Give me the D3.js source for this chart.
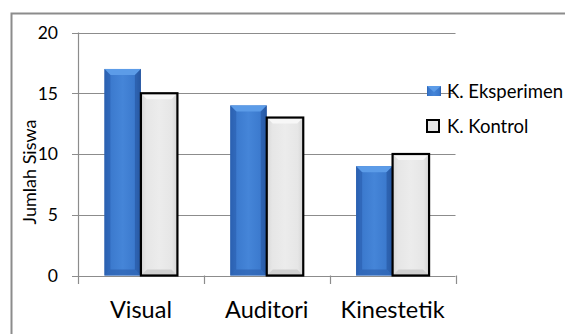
<!DOCTYPE html>
<html><head><meta charset="utf-8">
<script src="https://cdn.jsdelivr.net/npm/d3@7"></script>
<style>body{margin:0;background:#fff}svg{display:block}text{font-family:Lato,"Open Sans",sans-serif;fill:#000}</style>
</head><body><svg id="c" width="565" height="334"></svg>
<script>
const categories = ["Visual", "Auditori", "Kinestetik"];
const seriesNames = ["K. Eksperimen", "K. Kontrol"];
const eksperimen = [17, 14, 9];
const kontrol = [15, 13, 10];
const yTicks = [0, 5, 10, 15, 20];
const yTitle = "Jumlah Siswa";

const svg = d3.select("#c");
const defs = svg.append("defs");
const gB = defs.append("linearGradient").attr("id","gb").attr("x1",0).attr("x2",1).attr("y1",0).attr("y2",0);
[[0,"#2c64b4"],[0.12,"#3a78cc"],[0.5,"#4585d8"],[0.88,"#3a78cc"],[1,"#2a5ca8"]].forEach(s=>gB.append("stop").attr("offset",s[0]).attr("stop-color",s[1]));
const gG = defs.append("linearGradient").attr("id","gg").attr("x1",0).attr("x2",1).attr("y1",0).attr("y2",0);
[[0,"#d8d8d8"],[0.15,"#e6e6e6"],[0.5,"#ececec"],[0.85,"#e6e6e6"],[1,"#d4d4d4"]].forEach(s=>gG.append("stop").attr("offset",s[0]).attr("stop-color",s[1]));

// outer frame
svg.append("path").attr("d","M11.5,334 V13.5 H565").attr("fill","none").attr("stroke","#8c8c8c").attr("stroke-width",2);

const x = d3.scaleBand().domain(categories).range([78,455.5]);
const y = d3.scaleLinear().domain([0,20]).range([275.5,32.5]);
const bw = 36.5;

// gridlines
svg.append("g").selectAll("line").data(yTicks).join("line")
  .attr("x1",72).attr("x2",455.5).attr("y1",d=>Math.round(y(d))+0.5).attr("y2",d=>Math.round(y(d))+0.5)
  .attr("stroke","#8c8c8c").attr("stroke-width",1.2);
// y axis line
svg.append("line").attr("x1",78.5).attr("x2",78.5).attr("y1",y(20)).attr("y2",284).attr("stroke","#8c8c8c").attr("stroke-width",1.2);
// x ticks
const xt = categories.map(c=>x(c)).concat([x.range()[1]]);
svg.append("g").selectAll("line").data(xt.slice(1)).join("line")
  .attr("x1",d=>Math.round(d)+0.5).attr("x2",d=>Math.round(d)+0.5).attr("y1",y(0)).attr("y2",284)
  .attr("stroke","#8c8c8c").attr("stroke-width",1.2);

// y tick labels
svg.append("g").selectAll("text").data(yTicks).join("text")
  .attr("x",58).attr("y",d=>y(d)).attr("dy","0.36em").attr("text-anchor","end")
  .style("font-size","17.5px").text(d=>d);

// y title
svg.append("text").attr("transform",`translate(36,172) rotate(-90)`)
  .attr("text-anchor","middle").style("font-size","18px").text(yTitle);

// category labels
svg.append("g").selectAll("text").data(categories).join("text")
  .attr("x",d=>x(d)+x.bandwidth()/2).attr("y",318).attr("text-anchor","middle")
  .style("font-size","23.5px").text(d=>d);

function drawBar(g, x0, yTop, yBot, w, type){
  const b = 6;
  if(type===0){
    g.append("rect").attr("x",x0).attr("y",yTop).attr("width",w).attr("height",yBot-yTop).attr("fill","url(#gb)");
    g.append("path").attr("d",`M${x0},${yTop} H${x0+w} L${x0+w-b},${yTop+b} H${x0+b} Z`).attr("fill","#5c9ce8");
    g.append("path").attr("d",`M${x0},${yTop} L${x0+b},${yTop+b} V${yBot-b} L${x0},${yBot} Z`).attr("fill","#2a5eae").attr("opacity",0.6);
    g.append("path").attr("d",`M${x0+w},${yTop} L${x0+w-b},${yTop+b} V${yBot-b} L${x0+w},${yBot} Z`).attr("fill","#24539c").attr("opacity",0.6);
    g.append("path").attr("d",`M${x0},${yBot} L${x0+b},${yBot-b} H${x0+w-b} L${x0+w},${yBot} Z`).attr("fill","#2d62b0").attr("opacity",0.7);
  } else {
    g.append("rect").attr("x",x0).attr("y",yTop).attr("width",w).attr("height",yBot-yTop).attr("fill","url(#gg)");
    g.append("path").attr("d",`M${x0},${yTop} H${x0+w} L${x0+w-b},${yTop+b} H${x0+b} Z`).attr("fill","#f7f7f7");
    g.append("path").attr("d",`M${x0},${yBot} L${x0+b},${yBot-b} H${x0+w-b} L${x0+w},${yBot} Z`).attr("fill","#d0d0d0");
    g.append("rect").attr("x",x0).attr("y",yTop).attr("width",w).attr("height",yBot-yTop).attr("fill","none").attr("stroke","#000").attr("stroke-width",2.2);
  }
}

const barsG = svg.append("g");
categories.forEach((c,i)=>{
  const cx = x(c)+x.bandwidth()/2;
  drawBar(barsG, cx-bw, y(eksperimen[i]), y(0), bw, 0);
  drawBar(barsG, cx, y(kontrol[i]), y(0), bw, 1);
});

// legend
const lg = svg.append("g");
const ly = [91, 126];
seriesNames.forEach((s,i)=>{
  if(i===0){
    lg.append("rect").attr("x",427).attr("y",ly[i]-5).attr("width",14).attr("height",10).attr("fill","url(#gb)");
    lg.append("path").attr("d",`M427,${ly[i]-5} H441 L434,${ly[i]+1} Z`).attr("fill","#5c9ce8");
  } else {
    lg.append("rect").attr("x",427).attr("y",ly[i]-6).attr("width",12).attr("height",12).attr("fill","#e6e6e6").attr("stroke","#000").attr("stroke-width",2);
  }
  lg.append("text").attr("x",447).attr("y",ly[i]).attr("dy","0.36em").style("font-size","18.5px").text(s);
});
</script></body></html>
